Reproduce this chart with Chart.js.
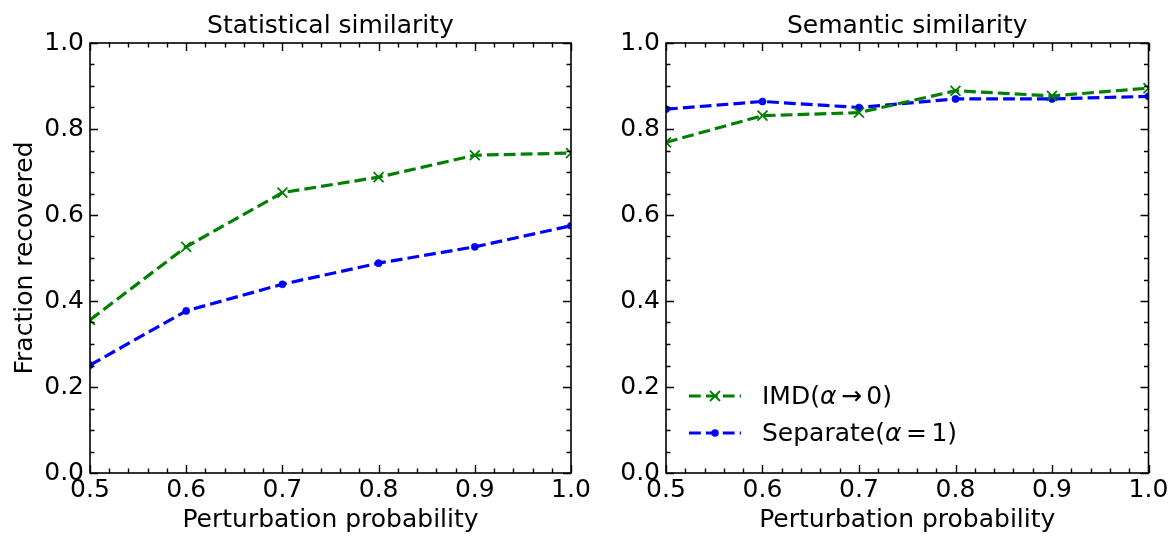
<!DOCTYPE html>
<html>
<head>
<meta charset="utf-8">
<script src="https://cdn.jsdelivr.net/npm/chart.js@4.4.0/dist/chart.umd.min.js"></script>
<style>
  html, body { margin: 0; padding: 0; background: #fff; }
  #wrap { position: relative; width: 1176px; height: 538px; overflow: hidden; background: #fff; }
  #c1 { position: absolute; left: 0; top: 0; }
  #c2 { position: absolute; left: 590px; top: 0; }
</style>
</head>
<body>
<div id="wrap">
  <canvas id="c1" width="590" height="538"></canvas>
  <canvas id="c2" width="586" height="538"></canvas>
</div>
<script>
// ---------------- data ----------------
const probabilities = [0.5, 0.6, 0.7, 0.8, 0.9, 1.0];
const statIMD       = [0.356, 0.526, 0.652, 0.688, 0.739, 0.744];
const statSeparate  = [0.251, 0.377, 0.439, 0.488, 0.526, 0.575];
const semIMD        = [0.769, 0.831, 0.838, 0.889, 0.877, 0.895];
const semSeparate   = [0.846, 0.864, 0.850, 0.870, 0.870, 0.876];
const xTickValues   = [0.5, 0.6, 0.7, 0.8, 0.9, 1.0];
const yTickValues   = [0.0, 0.2, 0.4, 0.6, 0.8, 1.0];
const panelTitles   = ['Statistical similarity', 'Semantic similarity'];
const xAxisTitle    = 'Perturbation probability';
const yAxisTitle    = 'Fraction recovered';
const seriesNames   = ['IMD', 'Separate'];

// ---------------- style ----------------
const FONT = 'DejaVu Sans';
const FS = 25;
const GREEN = '#008000';
const BLUE = '#0000ff';
const LW = 3.2;
const DASH = [11.8, 5.1];

function pts(xs, ys) { return xs.map((x, i) => ({ x: x, y: ys[i] })); }

const framePlugin = {
  id: 'frame',
  afterDraw(chart, args, opts) {
    const ctx = chart.ctx;
    const a = chart.chartArea;
    const xs = chart.scales.x, ys = chart.scales.y;
    ctx.save();
    ctx.strokeStyle = '#000';
    ctx.lineWidth = 1.4;
    ctx.setLineDash([]);
    const MAJ = 8, MIN = 4.5;
    ctx.beginPath();
    for (let k = 0; k <= 25; k++) {
      const v = 0.5 + k * 0.02;
      const major = (k % 5 === 0);
      const L = major ? MAJ : MIN;
      const px = Math.round(xs.getPixelForValue(v)) + 0.5;
      ctx.moveTo(px, a.bottom); ctx.lineTo(px, a.bottom - L);
      ctx.moveTo(px, a.top); ctx.lineTo(px, a.top + L);
    }
    for (let k = 0; k <= 20; k++) {
      const v = k * 0.05;
      const major = (k % 4 === 0);
      const L = major ? MAJ : MIN;
      const py = Math.round(ys.getPixelForValue(v)) + 0.5;
      ctx.moveTo(a.left, py); ctx.lineTo(a.left + L, py);
      ctx.moveTo(a.right, py); ctx.lineTo(a.right - L, py);
    }
    ctx.stroke();
    ctx.lineWidth = 1.6;
    ctx.strokeRect(a.left, a.top, a.right - a.left, a.bottom - a.top);
    ctx.fillStyle = '#000';
    ctx.font = FS + 'px "' + FONT + '"';
    ctx.textAlign = 'center';
    ctx.textBaseline = 'alphabetic';
    ctx.fillText(opts.title, (a.left + a.right) / 2, 33);

    if (opts.legend) {
      const x0 = a.left + 23, x1 = a.left + 75, xm = (x0 + x1) / 2, tx = a.left + 96;
      const rows = [
        { y: a.bottom - 77, color: GREEN, marker: 'x',
          parts: [{ t: seriesNames[0] + '(' }, { t: 'α', it: true }, { t: '→', gap: 4.5 }, { t: '0)', gap: 4.5 }] },
        { y: a.bottom - 40, color: BLUE, marker: 'dot',
          parts: [{ t: seriesNames[1] + '(' }, { t: 'α', it: true }, { t: '=', gap: 4.5 }, { t: '1)', gap: 4.5 }] }
      ];
      rows.forEach(r => {
        ctx.save();
        ctx.strokeStyle = r.color;
        ctx.lineWidth = LW;
        ctx.setLineDash(DASH);
        ctx.beginPath();
        ctx.moveTo(x0, r.y); ctx.lineTo(x1, r.y);
        ctx.stroke();
        ctx.setLineDash([]);
        if (r.marker === 'x') {
          ctx.lineWidth = 1.8;
          const d = 5;
          ctx.beginPath();
          ctx.moveTo(xm - d, r.y - d); ctx.lineTo(xm + d, r.y + d);
          ctx.moveTo(xm - d, r.y + d); ctx.lineTo(xm + d, r.y - d);
          ctx.stroke();
        } else {
          ctx.fillStyle = r.color;
          ctx.beginPath();
          ctx.arc(xm, r.y, 3.8, 0, Math.PI * 2);
          ctx.fill();
        }
        ctx.restore();
        let x = tx;
        ctx.fillStyle = '#000';
        ctx.textAlign = 'left';
        ctx.textBaseline = 'middle';
        r.parts.forEach(p => {
          x += (p.gap || 0);
          ctx.font = (p.it ? 'italic ' : '') + FS + 'px "' + FONT + '"';
          ctx.fillText(p.t, x, r.y + 1.7);
          x += ctx.measureText(p.t).width;
        });
      });
    }
    ctx.restore();
  }
};

function makeChart(id, imd, sep, title, showYTitle, yWidth, padRight, legend) {
  const font = { family: FONT, size: FS };
  return new Chart(document.getElementById(id), {
    type: 'line',
    data: {
      datasets: [
        {
          label: seriesNames[0],
          data: pts(probabilities, imd),
          borderColor: GREEN,
          backgroundColor: GREEN,
          borderWidth: LW,
          borderDash: DASH,
          pointStyle: 'crossRot',
          pointRadius: 7,
          pointBorderWidth: 1.8,
          pointBorderColor: GREEN,
          pointBackgroundColor: GREEN,
          fill: false,
          tension: 0
        },
        {
          label: seriesNames[1],
          data: pts(probabilities, sep),
          borderColor: BLUE,
          backgroundColor: BLUE,
          borderWidth: LW,
          borderDash: DASH,
          pointStyle: 'circle',
          pointRadius: 3.6,
          pointBorderWidth: 0.5,
          pointBorderColor: BLUE,
          pointBackgroundColor: BLUE,
          fill: false,
          tension: 0
        }
      ]
    },
    options: {
      responsive: false,
      animation: false,
      devicePixelRatio: 1,
      layout: { padding: { left: 0, top: 43, right: padRight, bottom: 0 } },
      plugins: {
        legend: { display: false },
        tooltip: { enabled: false },
        frame: { title: title, legend: legend }
      },
      scales: {
        x: {
          type: 'linear',
          min: 0.5, max: 1.0,
          afterBuildTicks: s => { s.ticks = xTickValues.map(v => ({ value: v })); },
          ticks: { callback: v => Number(v).toFixed(1), font: font, color: '#000', padding: 2, maxRotation: 0, minRotation: 0, autoSkip: false },
          grid: { display: false, drawTicks: false },
          border: { display: false },
          title: { display: true, text: xAxisTitle, font: font, color: '#000', padding: { top: 0, bottom: 3 } },
          afterFit: s => { s.height = 65; s.paddingLeft = 0; s.paddingRight = 0; }
        },
        y: {
          type: 'linear',
          min: 0, max: 1.0,
          afterBuildTicks: s => { s.ticks = yTickValues.map(v => ({ value: v })); },
          ticks: { callback: v => Number(v).toFixed(1), font: font, color: '#000', padding: 6, autoSkip: false },
          grid: { display: false, drawTicks: false },
          border: { display: false },
          title: { display: showYTitle, text: yAxisTitle, font: font, color: '#000', padding: { top: 10, bottom: 0 } },
          afterFit: s => { s.width = yWidth; s.paddingTop = 0; s.paddingBottom = 0; }
        }
      }
    },
    plugins: [framePlugin]
  });
}

makeChart('c1', statIMD, statSeparate, panelTitles[0], true, 90, 19, false);
makeChart('c2', semIMD, semSeparate, panelTitles[1], false, 76, 27.5, true);
</script>
</body>
</html>
